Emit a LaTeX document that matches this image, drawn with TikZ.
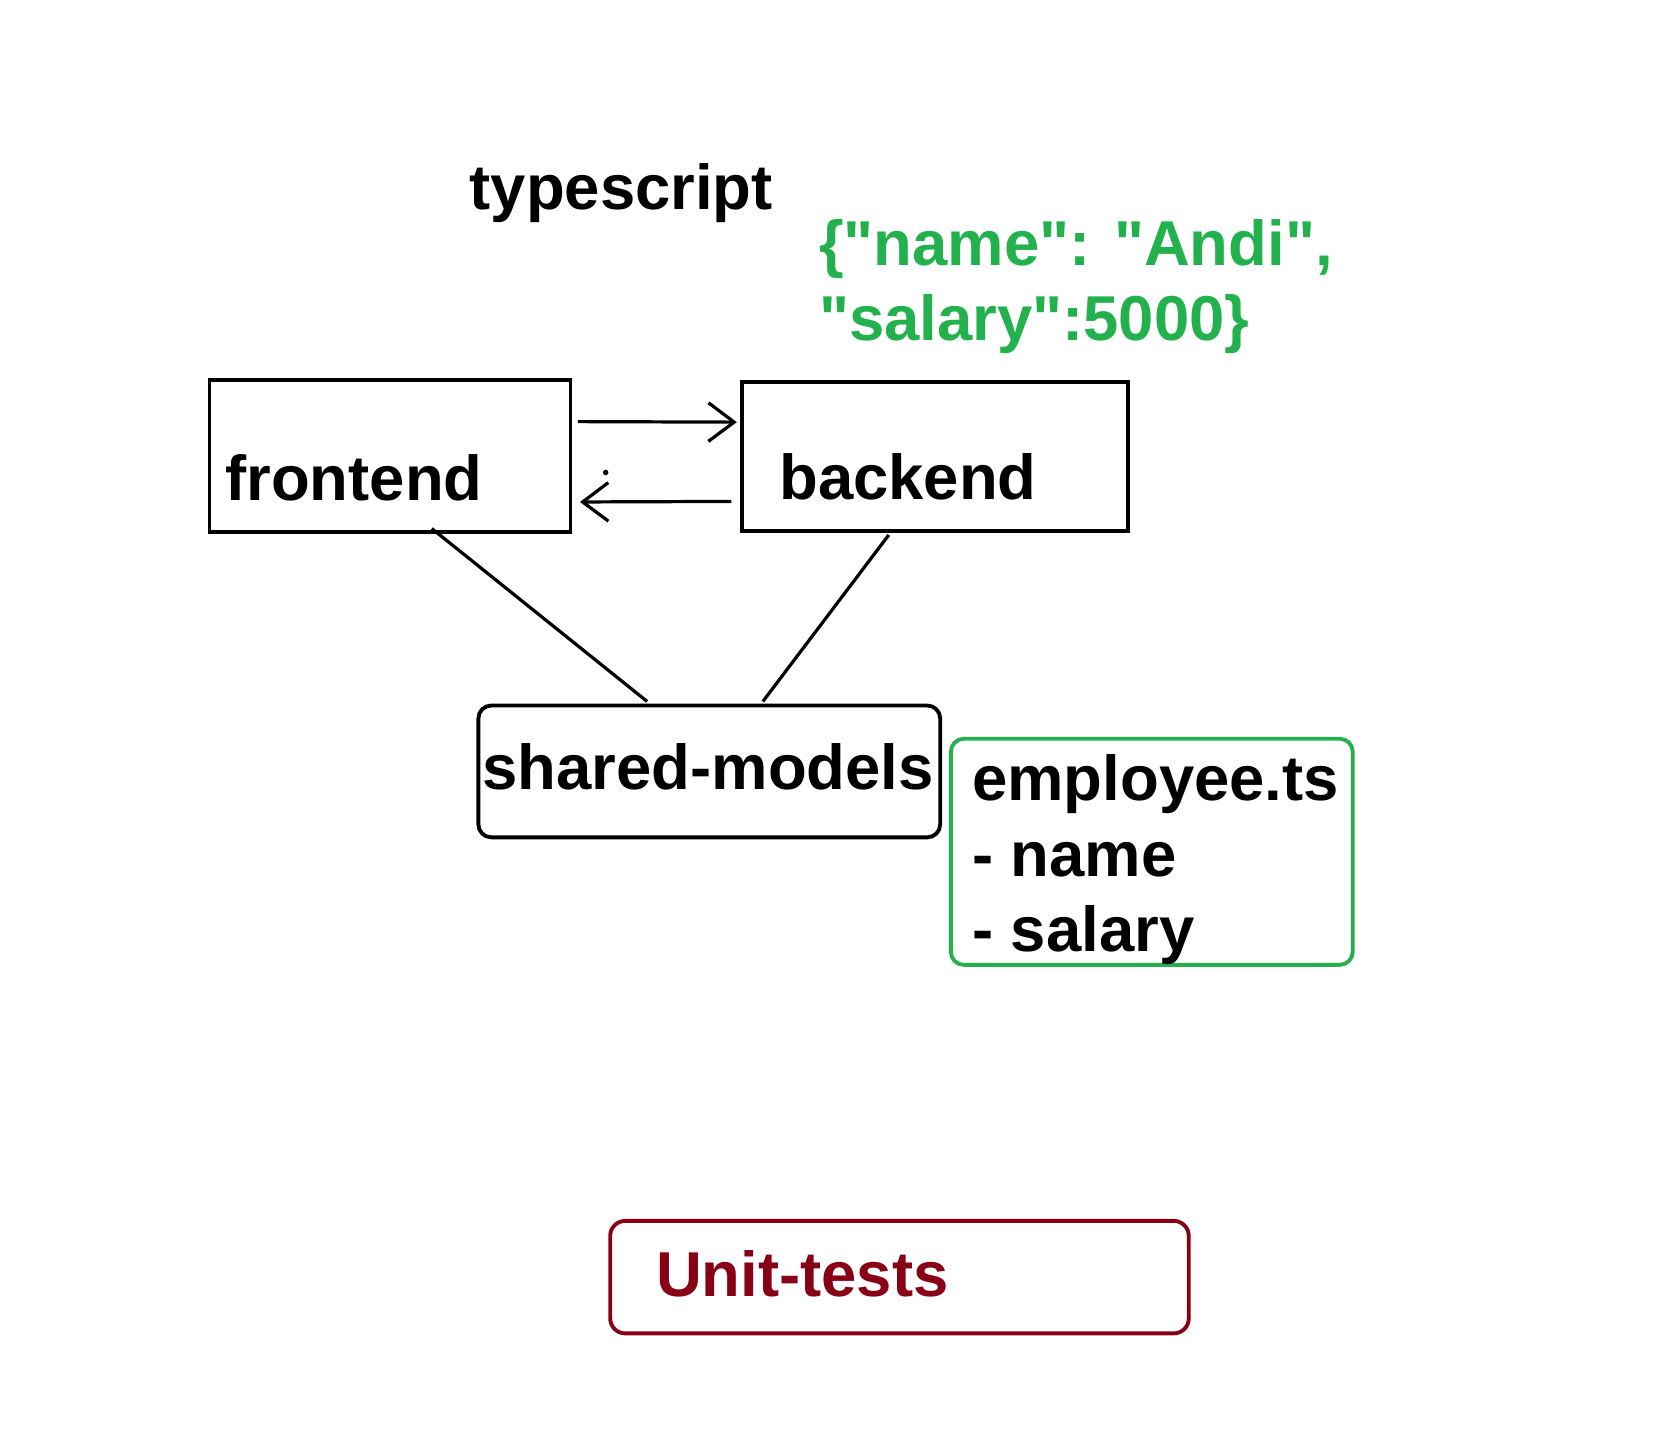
\documentclass[tikz,border=0pt]{standalone}
\usepackage{fontspec}
\setmainfont{Liberation Sans}[Ligatures=TeXOff]
\usetikzlibrary{arrows.meta,calc}
\definecolor{pgreen}{HTML}{22B14C}
\definecolor{pred}{HTML}{880015}
\begin{document}
\begin{tikzpicture}[x=0.5pt,y=-0.5pt,
  txt/.style={font=\fontsize{29.6}{35}\selectfont\bfseries, inner sep=0pt, anchor=base west},
  box/.style={draw, line width=1.8pt, inner sep=0pt},
  rbox/.style={box, rounded corners=6pt},
  conn/.style={line width=1.5pt},
  flow/.style={conn, -{Straight Barb[length=12pt,width=18pt,line width=1.5pt]}}
]
\useasboundingbox[fill=white] (0,0) rectangle (1568,1337);

% boxes
\node[box, minimum width=168.5pt, minimum height=71pt] (frontend) at (364,425.5) {};
\node[box, minimum width=180pt, minimum height=69.5pt] (backend) at (872.5,426) {};
\node[rbox, minimum width=215.5pt, minimum height=61.5pt] (shared) at (662,720) {};
\node[rbox, draw=pgreen, minimum width=187.5pt, minimum height=105.5pt] (employee) at (1075,795) {};
\node[rbox, draw=pred, rounded corners=7pt, minimum width=270pt, minimum height=52.5pt] (unit) at (839.5,1192) {};

% texts
\node[txt] (ts) at (438,196) {typescript};
\node[txt, text=pgreen] (json1) at (764,248) {\{"name": "Andi",};
\node[txt, text=pgreen] (json2) at (764,318) {"salary":5000\}};
\node[txt] (tfront) at (210,467) {frontend};
\node[txt] (tback) at (727,466) {backend};
\node[txt] (tshared) at (450,737) {shared-models};
\node[txt] (temp1) at (907,747) {employee.ts};
\node[txt] (temp2) at (907,818) {- name};
\node[txt] (temp3) at (907,888) {- salary};
\node[txt, text=pred] (tunit) at (612,1210) {Unit-tests};

% connectors
\draw[flow] ($(frontend.east)+(5,-32)$) -- ($(backend.west)+(-3,-32)$);
\draw[flow] ($(backend.west)+(-8,42)$) -- ($(frontend.east)+(7,43)$);
\fill ($(frontend.east)+(31,15.5)$) circle (1.3pt);
\draw[conn] ($(frontend.south)+(39,-5)$) -- ($(shared.north)+(-58,-2)$);
\draw[conn] ($(backend.south)+(-43,2)$) -- ($(shared.north)+(50,-2)$);
\end{tikzpicture}
\end{document}
